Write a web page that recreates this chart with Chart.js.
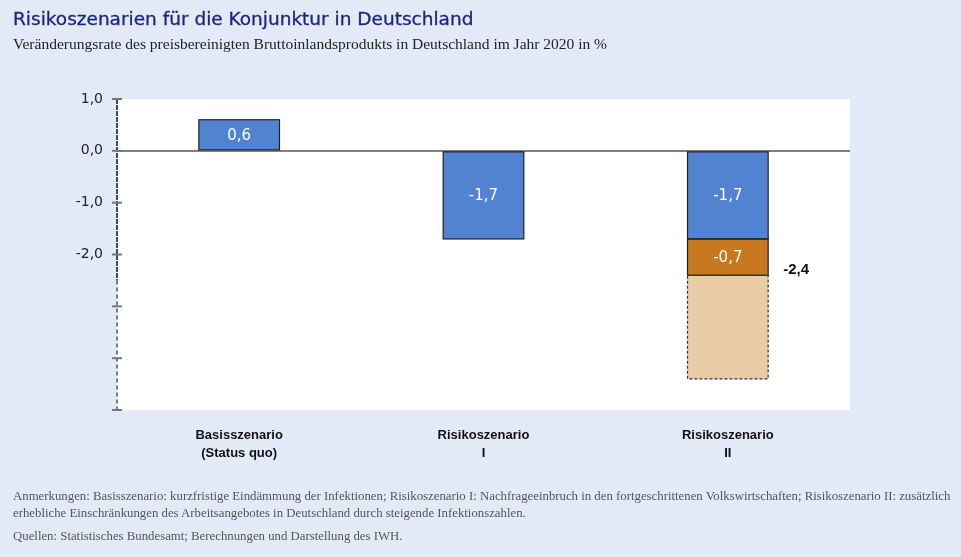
<!DOCTYPE html>
<html lang="de">
<head>
<meta charset="utf-8">
<script src="https://cdn.jsdelivr.net/npm/chart.js@4"></script>
<style>
  html, body { margin: 0; padding: 0; background: #e3eaf7; }
  #wrap { position: relative; width: 961px; height: 557px; overflow: hidden; }
  #chart { position: absolute; left: 0; top: 0; }
  .title { position: absolute; left: 13px; top: 8px; font-family: "DejaVu Sans", sans-serif; font-size: 18.5px; color: #1c2680; -webkit-text-stroke: 0.3px #1c2680; }
  .sub { position: absolute; left: 13px; top: 35px; font-family: "Liberation Serif", serif; font-size: 15.5px; color: #222; }
  .note { position: absolute; left: 13px; font-family: "Liberation Serif", serif; font-size: 12.8px; color: #555; white-space: nowrap; }
</style>
</head>
<body>
<div id="wrap">
  <canvas id="chart" width="961" height="557"></canvas>
  <div class="title">Risikoszenarien für die Konjunktur in Deutschland</div>
  <div class="sub">Veränderungsrate des preisbereinigten Bruttoinlandsprodukts in Deutschland im Jahr 2020 in %</div>
  <div class="note" style="top:489px">Anmerkungen: Basisszenario: kurzfristige Eindämmung der Infektionen; Risikoszenario I: Nachfrageeinbruch in den fortgeschrittenen Volkswirtschaften; Risikoszenario II: zusätzlich</div>
  <div class="note" style="top:506px">erhebliche Einschränkungen des Arbeitsangebotes in Deutschland durch steigende Infektionszahlen.</div>
  <div class="note" style="top:529px">Quellen: Statistisches Bundesamt; Berechnungen und Darstellung des IWH.</div>
</div>
<script>
// Data
const categories = [['Basisszenario', '(Status quo)'], ['Risikoszenario', 'I'], ['Risikoszenario', 'II']];
const baseValues = [0.6, -1.7, -1.7];
const extraValues = [null, null, -0.7];
const rangeValues = [null, null, -2.0];
const totalLabel = '-2,4';
const yTickLabels = { '1': '1,0', '0': '0,0', '-1': '-1,0', '-2': '-2,0' };

const fmt = (v) => v.toFixed(1).replace('.', ',');

// Axis line, ticks, outlines and value labels
const decorPlugin = {
  id: 'decor',
  afterDatasetsDraw(chart) {
    const ctx = chart.ctx;
    const y = chart.scales.y;
    const area = chart.chartArea;
    const x0 = area.left;
    ctx.save();

    // solid outlines of the real bars
    ctx.strokeStyle = '#222';
    ctx.lineWidth = 1.2;
    [0, 1].forEach((di) => {
      chart.getDatasetMeta(di).data.forEach((el, i) => {
        const vals = di === 0 ? baseValues : extraValues;
        if (vals[i] == null) return;
        const p = el.getProps(['x', 'y', 'base', 'width'], true);
        ctx.strokeRect(p.x - p.width / 2, Math.min(p.y, p.base), p.width, Math.abs(p.y - p.base));
      });
    });

    // dashed outline of the range bar
    chart.getDatasetMeta(2).data.forEach((el, i) => {
      if (rangeValues[i] == null) return;
      const p = el.getProps(['x', 'y', 'base', 'width'], true);
      ctx.setLineDash([3, 2]);
      ctx.strokeStyle = '#333';
      ctx.lineWidth = 1.2;
      ctx.strokeRect(p.x - p.width / 2, Math.min(p.y, p.base), p.width, Math.abs(p.y - p.base));
    });

    // y axis
    ctx.lineWidth = 2;
    ctx.setLineDash([5, 1]);
    ctx.strokeStyle = '#4a4a4a';
    ctx.beginPath();
    ctx.moveTo(x0, y.getPixelForValue(1));
    ctx.lineTo(x0, y.getPixelForValue(-2.5));
    ctx.stroke();
    ctx.setLineDash([4, 3]);
    ctx.strokeStyle = '#7a7a7a';
    ctx.beginPath();
    ctx.moveTo(x0, y.getPixelForValue(-2.5));
    ctx.lineTo(x0, y.getPixelForValue(-5));
    ctx.stroke();
    ctx.setLineDash([]);
    ctx.strokeStyle = '#777';
    y.ticks.forEach((t) => {
      const py = y.getPixelForValue(t.value);
      ctx.beginPath();
      ctx.moveTo(x0 - 5, py);
      ctx.lineTo(x0 + 5, py);
      ctx.stroke();
    });

    // value labels inside bars
    ctx.font = '15px "DejaVu Sans", sans-serif';
    ctx.textAlign = 'center';
    ctx.textBaseline = 'middle';
    ctx.fillStyle = '#ffffff';
    [[0, baseValues], [1, extraValues]].forEach(([di, vals]) => {
      chart.getDatasetMeta(di).data.forEach((el, i) => {
        if (vals[i] == null) return;
        const p = el.getProps(['x', 'y', 'base'], true);
        ctx.fillText(fmt(vals[i]), p.x, (p.y + p.base) / 2 + 1);
      });
    });

    // total label next to the stack
    const el = chart.getDatasetMeta(1).data[2];
    const p = el.getProps(['x', 'y', 'width'], true);
    ctx.font = 'bold 15px "Liberation Sans", sans-serif';
    ctx.fillStyle = '#111';
    ctx.fillText(totalLabel, p.x + p.width / 2 + 28, p.y - 5);
    ctx.restore();
  }
};

new Chart(document.getElementById('chart'), {
  type: 'bar',
  data: {
    labels: categories,
    datasets: [
      { data: baseValues, backgroundColor: '#5283d1', borderWidth: 0 },
      { data: extraValues, backgroundColor: '#c8781e', borderWidth: 0 },
      { data: rangeValues, backgroundColor: '#e9cba8', borderWidth: 0 }
    ]
  },
  options: {
    responsive: false,
    animation: false,
    layout: { padding: { left: 0, right: 111, top: 99, bottom: 97 } },
    plugins: {
      legend: { display: false },
      tooltip: { enabled: false },
      title: { display: false }
    },
    datasets: { bar: { categoryPercentage: 1, barPercentage: 0.33 } },
    scales: {
      x: {
        stacked: true,
        grid: { display: false, drawTicks: false },
        border: { display: false },
        ticks: {
          padding: 16,
          color: '#111',
          font: { family: '"Liberation Sans Narrow", "Liberation Sans", sans-serif', size: 13, weight: 'bold', lineHeight: 1.4 }
        },
        afterFit(scale) { scale.height = 50; }
      },
      y: {
        stacked: true,
        min: -5,
        max: 1,
        ticks: {
          stepSize: 1,
          padding: 14,
          color: '#222',
          font: { family: '"DejaVu Sans", sans-serif', size: 14 },
          callback: (v) => yTickLabels[String(v)] || ''
        },
        grid: {
          drawTicks: false,
          color: (c) => (c.tick && c.tick.value === 0 ? '#808080' : 'rgba(0,0,0,0)'),
          lineWidth: 2
        },
        border: { display: false },
        afterFit(scale) { scale.width = 117; }
      }
    }
  },
  plugins: [{
    id: 'plotBg',
    beforeDraw(chart) {
      const a = chart.chartArea;
      chart.ctx.save();
      chart.ctx.fillStyle = '#ffffff';
      chart.ctx.fillRect(a.left, a.top, a.right - a.left, a.bottom - a.top);
      chart.ctx.restore();
    }
  }, decorPlugin]
});
</script>
</body>
</html>
